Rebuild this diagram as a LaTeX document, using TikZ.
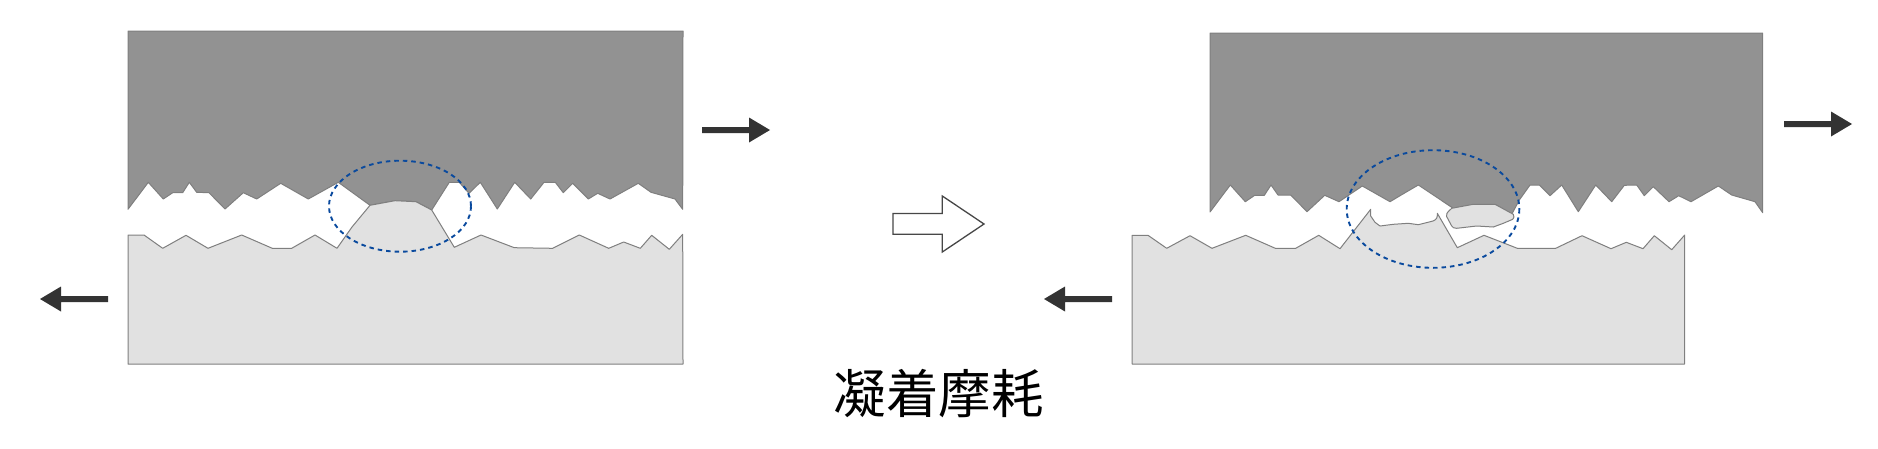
\documentclass[tikz,border=0pt]{standalone}
\usepackage{fontspec}
\newfontfamily\cjk{Noto Sans CJK JP}
\definecolor{upperfill}{HTML}{929292}
\definecolor{lowerfill}{HTML}{E1E1E1}
\definecolor{edgegray}{HTML}{7F7F7F}
\definecolor{zoneblue}{HTML}{0A4A9E}
\definecolor{arrowdark}{HTML}{333333}
\tikzset{
  upperbody/.style={fill=upperfill,draw=edgegray,line width=1pt,line join=round},
  lowerbody/.style={fill=lowerfill,draw=edgegray,line width=1pt,line join=round},
  zone/.style={draw=zoneblue,line width=1.9pt,dash pattern=on 4.5pt off 4pt},
  solidarrow/.style={fill=arrowdark,draw=none},
  hollowarrow/.style={fill=white,draw=arrowdark!90,line width=1.3pt,line join=miter},
  caption/.style={font=\cjk\fontsize{52.5}{60}\selectfont,inner sep=0pt,text=black}
}
\begin{document}
\begin{tikzpicture}[x=1pt,y=-1pt]
\useasboundingbox (0,0) rectangle (1878,448);
% left: upper body
\draw[upperbody] (128,31) -- (683,31) -- (682.7,209.3) -- (675,199) -- (651,192.3) -- (638.3,183.3) -- (610,199) -- (597.7,193.3) -- (588.3,199) -- (572.7,183.3) -- (563.3,192.7) -- (555.3,182.3) -- (544,182.3) -- (530.7,199) -- (514.7,182.3) -- (497.3,209) -- (480.3,182.3) -- (469,193.3) -- (459.3,182.3) -- (449.3,182.3) -- (431.7,210) -- (416,201.7) -- (395,200.7) -- (370,205.3) -- (338.3,182.3) -- (308.3,199) -- (280.7,183.3) -- (256.7,199) -- (243.3,192.7) -- (225,209) -- (209,192.7) -- (196.7,192.3) -- (189.3,182.3) -- (182.7,192.7) -- (172.7,192.7) -- (163.3,199) -- (148.3,182.3) -- (128,209.3) -- cycle;
% left: lower body
\draw[lowerbody] (128,364) -- (128,235) -- (144,235) -- (162.7,248.3) -- (186,235.3) -- (208,248.3) -- (241.7,235) -- (272.3,248.3) -- (291.7,248.3) -- (315,235) -- (337,248.3) -- (352,227) -- (370,205.3) -- (395,200.7) -- (416,201.7) -- (431.7,210) -- (454.3,247.3) -- (481,235) -- (514.3,247.7) -- (552.7,248.3) -- (579.3,235) -- (608.7,248.3) -- (623.7,242) -- (640.3,248.3) -- (651.7,235.3) -- (669.3,249.3) -- (682.7,234.3) -- (683,364) -- cycle;
\draw[zone] (400,206.2) ellipse [x radius=71,y radius=45.5];
% right: upper body
\draw[upperbody] (1210,33) -- (1762.7,33) -- (1762.7,212.7) -- (1755,201.7) -- (1731.7,195) -- (1718.3,186) -- (1691,201.7) -- (1678.7,195.7) -- (1669,201.7) -- (1653.3,186.7) -- (1644.3,195.7) -- (1636.7,185) -- (1624.3,185.3) -- (1611.7,201.7) -- (1595.7,185) -- (1578.3,211.7) -- (1561.7,185) -- (1550,195.7) -- (1539.3,185) -- (1530,185) -- (1519.3,200) -- (1511.7,214.3) -- (1495.7,204.7) -- (1473.3,204.7) -- (1453,208.3) -- (1451.7,207.3) -- (1418.3,185) -- (1400,195.7) -- (1390,201.7) -- (1362.3,186) -- (1339,201.7) -- (1324.7,195.3) -- (1307,211.7) -- (1290.7,195) -- (1278,195) -- (1271,185) -- (1264.3,195.3) -- (1254.7,195.3) -- (1245.3,201.7) -- (1230.3,185) -- (1210,212) -- cycle;
% right: lower body
\draw[lowerbody] (1132,364) -- (1132,235.3) -- (1148,235.3) -- (1166.7,248.3) -- (1190,235.7) -- (1212,248.3) -- (1245.7,235.3) -- (1275.3,248.3) -- (1295.7,248.3) -- (1318.7,235.3) -- (1340,248.7) -- (1370.7,209.3) -- (1370.7,216) -- (1375,222.3) -- (1380,226) -- (1393.3,224.3) -- (1408.3,223.3) -- (1418.3,224.7) -- (1433,221) .. controls (1437,219.5) and (1437.5,217) .. (1437.3,213.3) -- (1457.3,247.7) -- (1484,235.3) -- (1517.3,248.3) -- (1555.7,248.3) -- (1582,235.7) -- (1611,248.7) -- (1626.3,242.3) -- (1643,248.7) -- (1654.3,235.7) -- (1671.7,249.7) -- (1684.7,235) -- (1684.7,364) -- cycle;
% right: transferred fragment
\draw[lowerbody] (1451.7,208.3) -- (1473.3,204.3) -- (1495,204.3) -- (1513.3,214.3) .. controls (1514.5,216.5) and (1514,218) .. (1512.7,219.3) -- (1503.3,223.3) -- (1493.3,227) -- (1476.7,226) -- (1456.7,228.3) .. controls (1454,228.3) and (1452.5,227.5) .. (1451.7,226) -- (1446.7,216.7) .. controls (1446,214.5) and (1447,212.5) .. (1448.3,211.5) -- cycle;
\draw[zone] (1433,209) ellipse [x radius=86.3,y radius=58.8];
% motion arrows
\draw[solidarrow] (702,127) -- (749,127) -- (749,117.5) -- (770,130) -- (749,142.5) -- (749,133) -- (702,133) -- cycle;
\draw[solidarrow] (108,296) -- (61,296) -- (61,286.5) -- (40,299) -- (61,311.5) -- (61,302) -- (108,302) -- cycle;
\draw[solidarrow] (1784,121) -- (1831,121) -- (1831,111.5) -- (1852,124) -- (1831,136.5) -- (1831,127) -- (1784,127) -- cycle;
\draw[solidarrow] (1112,296) -- (1065,296) -- (1065,286.5) -- (1044,299) -- (1065,311.5) -- (1065,302) -- (1112,302) -- cycle;
% transition arrow
\draw[hollowarrow] (893,213.5) -- (942.3,213.5) -- (942.3,196) -- (984,224) -- (942.3,252) -- (942.3,234.3) -- (893,234.3) -- cycle;
\node[caption] (title) at (938.5,393.5) {凝着摩耗};
\end{tikzpicture}
\end{document}
